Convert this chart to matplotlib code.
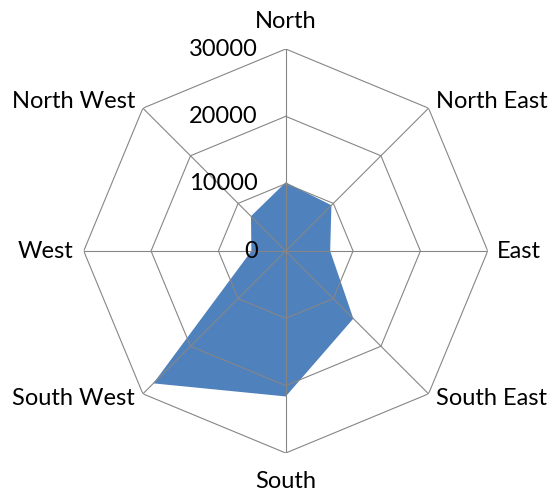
import numpy as np
import matplotlib
matplotlib.use("Agg")
import matplotlib.pyplot as plt

# compass directions, clockwise from north
directions = ["North", "North East", "East", "South East",
              "South", "South West", "West", "North West"]
values = [10200, 9600, 6600, 14200, 21600, 27800, 5100, 7300]
ring_ticks = [0, 10000, 20000, 30000]

plt.rcParams['font.family'] = ['Lato', 'DejaVu Sans']

fig = plt.figure(figsize=(5.49, 4.90), dpi=100)
ax = fig.add_axes([0.1525, 0.0755, 0.7359, 0.8245], projection='polar')
ax.set_theta_offset(np.pi / 2)
ax.set_theta_direction(-1)
ax.set_ylim(0, ring_ticks[-1])
ax.grid(False)
ax.set_xticks([])
ax.set_yticks([])
ax.spines['polar'].set_visible(False)

n = len(directions)
theta = np.arange(n) * 2 * np.pi / n
theta_closed = np.append(theta, theta[0])

# filled series
vals_closed = np.append(values, values[0])
ax.fill(theta_closed, vals_closed, color='#4F81BD', lw=0, zorder=2)

grid_col = '#868686'
for r in ring_ticks[1:]:
    ax.plot(theta_closed, [r] * (n + 1), color=grid_col, lw=0.8, zorder=3)
for t in theta:
    ax.plot([t, t], [0, ring_ticks[-1]], color=grid_col, lw=0.8, zorder=3)

# category labels: (dx, dy, ha) in pixels from outer vertex
offsets = {
    "North": (0, 28, 'center'),
    "North East": (7, 7, 'left'),
    "East": (9, 0, 'left'),
    "South East": (7, -5, 'left'),
    "South": (0, -28, 'center'),
    "South West": (-8, -5, 'right'),
    "West": (-10, 0, 'right'),
    "North West": (-8, 7, 'right'),
}
for t, name in zip(theta, directions):
    dx, dy, ha = offsets[name]
    ax.annotate(name, xy=(t, ring_ticks[-1]), xytext=(dx, dy),
                textcoords='offset pixels', ha=ha, va='center',
                fontsize=17, color='black', annotation_clip=False)

# value axis labels along the north spoke
for r in ring_ticks:
    ax.annotate(str(r), xy=(0, r), xytext=(-28, 0),
                textcoords='offset pixels', ha='right', va='center',
                fontsize=17, color='black', annotation_clip=False)

fig.savefig('out.png', dpi=100)
